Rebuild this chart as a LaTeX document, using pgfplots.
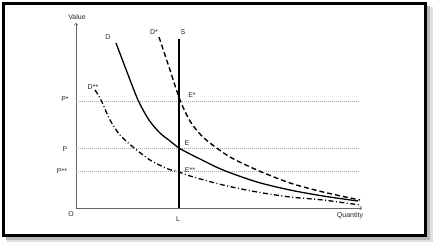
\documentclass[border=0pt]{standalone}
\usepackage{pgfplots}
\pgfplotsset{compat=1.18}
\usepackage{fontspec}
\setmainfont{Liberation Sans}
\usetikzlibrary{arrows.meta}
\tikzset{lbl/.style={font=\fontsize{7}{8}\selectfont, text=black!85, inner sep=0pt}}
\begin{document}
\begin{tikzpicture}
\begin{axis}[
  x=1pt, y=1pt,
  xmin=0, xmax=286, ymin=0, ymax=185,
  enlargelimits=false,
  axis lines=left,
  axis line style={draw=black!60, line width=0.7pt, -{To[length=2.5pt,width=4pt]}},
  xtick=\empty, ytick=\empty,
  clip=false,
  anchor=origin, at={(0,0)},
]
% frame with shadow
\draw[gray!25, line width=6pt] (axis cs:-68.5,-31.5) -- (axis cs:353.5,-31.5) -- (axis cs:353.5,200.5);
\draw[gray!55, line width=3.5pt] (axis cs:-69.5,-30.5) -- (axis cs:352.5,-30.5) -- (axis cs:352.5,201.5);
\draw[black, line width=3.5pt] (axis cs:-72.5,-27.5) rectangle (axis cs:349.5,204.5);
\coordinate (bl) at (axis cs:-76,-37);
\coordinate (tr) at (axis cs:358,208);

% dotted price lines
\addplot[gray!70, line width=0.7pt, dash pattern=on 1pt off 1pt] coordinates {(0,107) (283,107)};
\addplot[gray!70, line width=0.7pt, dash pattern=on 1pt off 1pt] coordinates {(0,60) (283,60)};
\addplot[gray!70, line width=0.7pt, dash pattern=on 1pt off 1pt] coordinates {(0,37) (283,37)};

% supply
\addplot[black, line width=2pt] coordinates {(103,0) (103,169)};

% D
\addplot[black, line width=1.3pt, smooth, tension=0.5] coordinates {
(40,165) (51,136) (62,108) (73,88) (84,75) (94,67) (103,60) (114,54) (124,49)
(147,38) (181,26) (214,18) (247,12) (282,7)};

% D*
\addplot[black, line width=1.4pt, dash pattern=on 5pt off 3pt, smooth, tension=0.5] coordinates {
(83,171) (93,141) (104,108) (114,87) (124,74) (134,65) (154,51) (181,38)
(214,25) (247,16) (284,8)};

% D**
\addplot[black, line width=1.3pt, dash pattern=on 5pt off 2.5pt on 1pt off 2.5pt, smooth, tension=0.5] coordinates {
(19,118) (25,108) (34,88) (44,73) (57,61) (74,48) (92,39) (103,36) (114,32)
(147,23) (181,16) (214,11) (247,8) (284,3)};

% labels
\node[lbl] at (axis cs:1,191) {Value};
\node[lbl] at (axis cs:274,-8) {Quantity};
\node[lbl] at (axis cs:-5,-6) {O};
\node[lbl] at (axis cs:102,-11) {L};
\node[lbl] at (axis cs:-11,109) {P*};
\node[lbl] at (axis cs:-11,59) {P};
\node[lbl] at (axis cs:-14,37) {P**};
\node[lbl] at (axis cs:32,171) {D};
\node[lbl] at (axis cs:78,176) {D*};
\node[lbl] at (axis cs:107,176) {S};
\node[lbl] at (axis cs:17,121) {D**};
\node[lbl] at (axis cs:116,113) {E*};
\node[lbl] at (axis cs:111,65) {E};
\node[lbl] at (axis cs:114,38) {E**};
\end{axis}
\pgfresetboundingbox
\path[use as bounding box] (bl) rectangle (tr);
\end{tikzpicture}
\end{document}
